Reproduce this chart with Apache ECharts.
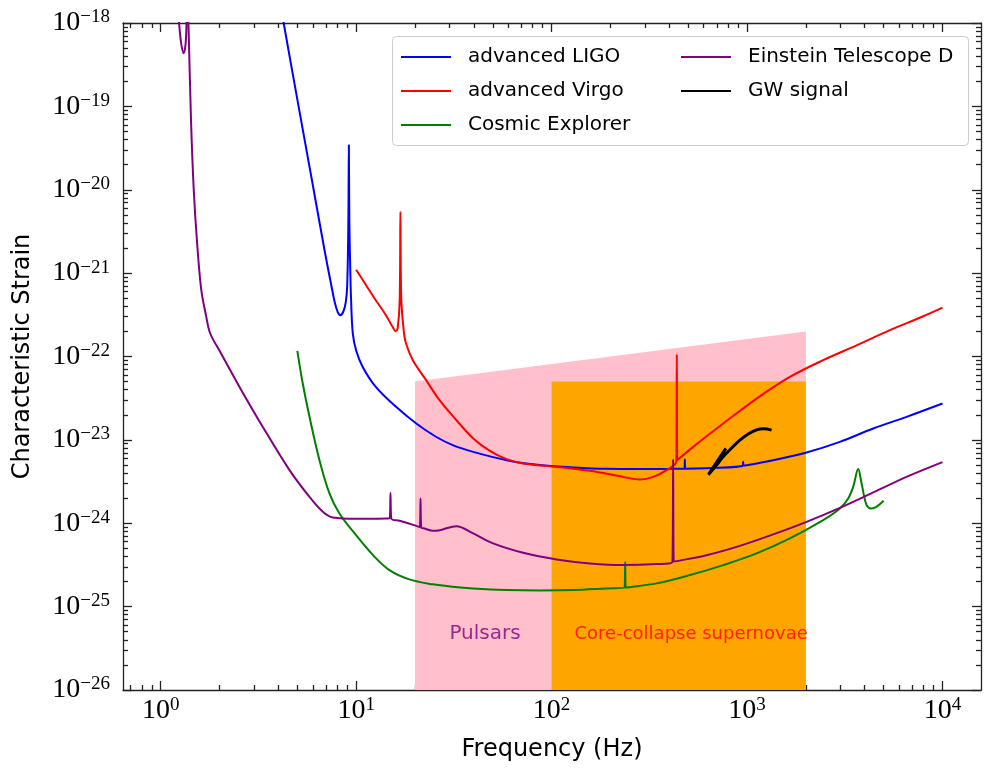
<!DOCTYPE html>
<html><head><meta charset="utf-8">
<script src="https://cdn.jsdelivr.net/npm/echarts@6/dist/echarts.min.js"></script>
<style>html,body{margin:0;padding:0;background:#fff}#c{width:985px;height:770px}</style>
</head><body><div id="c"></div>
<script>
// ---- tick labels (decade exponents) ----
const xTickExponents = [0, 1, 2, 3, 4];
const yTickExponents = [-26, -25, -24, -23, -22, -21, -20, -19, -18];

// ---- series: [frequency Hz, characteristic strain] ----
const advancedLIGO = [
  [4.02,2.15e-18],[4.25,1.02e-18],[5.01,1.18e-19],[5.94,1.30e-20],[6.89,1.88e-21],[7.46,7.16e-22],
  [7.77,4.48e-22],[8.05,3.40e-22],[8.29,3.13e-22],[8.59,3.44e-22],[8.85,4.48e-22],[9.00,7.16e-22],
  [9.12,4.07e-21],[9.175,3.44e-20],[9.23,4.07e-21],[9.33,1.08e-21],[9.42,4.73e-22],[9.61,1.89e-22],
  [9.99,1.19e-22],[10.8,7.50e-23],[12.6,4.33e-23],[16.0,2.49e-23],[20.3,1.57e-23],[25.6,1.09e-23],
  [31.2,8.65e-24],[39.7,7.18e-24],[58.8,5.71e-24],[87,4.98e-24],[129,4.67e-24],[191,4.49e-24],
  [283,4.46e-24],[419,4.49e-24],[478.7,4.52e-24],[480.5,5.82e-24],[482.2,4.52e-24],[620,4.58e-24],
  [951.7,4.91e-24],[955,5.48e-24],[958.5,4.93e-24],[1360,5.71e-24],[2016,7.06e-24],[2985,9.46e-24],
  [4420,1.37e-23],[6550,1.89e-23],[10000,2.73e-23]
];
const advancedVirgo = [
  [10.0,1.10e-21],[11.2,7.26e-22],[12.6,4.73e-22],[14.2,3.13e-22],[15.4,2.24e-22],[15.9,2.01e-22],
  [16.3,2.18e-22],[16.7,4.73e-22],[16.84,5.42e-21],[17.0,5.19e-22],[17.5,2.07e-22],[18.0,1.43e-22],
  [19.5,9.04e-23],[22.8,5.20e-23],[26.7,2.99e-23],[32.6,1.72e-23],[39.7,1.04e-23],[48.3,7.38e-24],
  [58.8,5.87e-24],[71.5,5.21e-24],[106,4.74e-24],[157,4.25e-24],[232,3.60e-24],[283,3.35e-24],
  [331,3.60e-24],[387,4.34e-24],[434.7,5.56e-24],[437.2,1.06e-22],[439.8,5.71e-24],[530,8.24e-24],
  [755,1.57e-23],[1119,3.13e-23],[1656,5.69e-23],[2452,9.04e-23],[3634,1.36e-22],[5381,2.07e-22],
  [7967,3.04e-22],[10000,3.86e-22]
];
const cosmicExplorer = [
  [5.0,1.17e-22],[5.33,4.74e-23],[5.77,1.89e-23],[6.49,5.71e-24],[7.30,2.28e-24],[8.21,1.31e-24],
  [9.99,7.19e-25],[12.2,4.14e-25],[14.8,2.74e-25],[18.7,2.12e-25],[24.7,1.85e-25],[31.2,1.73e-25],
  [39.7,1.65e-25],[58.8,1.58e-25],[87,1.56e-25],[129,1.58e-25],[191,1.65e-25],[236,1.69e-25],
  [237.9,3.44e-25],[239.5,1.70e-25],[344,1.90e-25],[510,2.39e-25],[755,3.15e-25],[1119,4.35e-25],
  [1656,6.58e-25],[2452,1.09e-24],[2985,1.50e-24],[3292,1.98e-24],[3491,2.73e-24],[3704,4.46e-24],
  [3855,3.00e-24],[4089,1.65e-24],[4337,1.50e-24],[5000,1.86e-24]
];
const einsteinTelescopeD = [
  [1.19,2.47e-18],[1.24,1.02e-18],[1.27,5.87e-19],[1.31,4.34e-19],[1.34,5.56e-19],[1.355,1.02e-18],
  [1.366,3.25e-18],[1.386,1.02e-18],[1.43,6.44e-20],[1.475,1.02e-20],[1.53,2.57e-21],[1.61,6.47e-22],
  [1.705,3.10e-22],[1.79,1.90e-22],[2.0,1.17e-22],[2.53,4.32e-23],[3.33,1.43e-23],
  [4.56,4.34e-24],[5.77,2.07e-24],[6.75,1.37e-24],[7.59,1.17e-24],[10.0,1.13e-24],[14.2,1.14e-24],
  [14.85,1.15e-24],[14.98,2.31e-24],[15.12,1.14e-24],[16.7,1.07e-24],[20.3,9.31e-25],[21.15,8.97e-25],
  [21.34,1.98e-24],[21.52,8.85e-25],[22.4,8.65e-25],[24.7,8.11e-25],[26.8,8.26e-25],[32.6,9.23e-25],
  [39.7,7.55e-25],[50.2,5.73e-25],[71.5,4.42e-25],[106,3.68e-25],[157,3.30e-25],[232,3.15e-25],
  [344,3.24e-25],[415,3.42e-25],[418.6,5.87e-24],[422,3.47e-25],[620,4.14e-25],[919,5.36e-25],
  [1360,7.35e-25],[2016,1.04e-24],[2985,1.53e-24],[4420,2.34e-24],[6550,3.60e-24],[10000,5.41e-24]
];
const gwSignal = [
  [779,7.89e-24],[634,3.83e-24],[692,4.84e-24],[752,6.21e-24],[836,8.05e-24],[919,9.91e-24],
  [1009,1.17e-23],[1119,1.32e-23],[1219,1.36e-23],[1335,1.31e-23]
];
// source regions: upper edge [frequency, strain]
const pulsarBand = [[20,5e-23],[2000,2e-22]];
const supernovaBand = [[100,5e-23],[2000,5e-23]];
// region text anchors [frequency, strain]
const pulsarLabelAt = [30, 4.7e-26];
const supernovaLabelAt = [131, 4.7e-26];

// ---- helpers ----
const XMIN = -0.193, XMAX = 4.197, YMIN = -26, YMAX = -18;
const L = d => d.map(p => [Math.log10(p[0]), Math.log10(p[1])]);
function minorTicks(lo, hi) {
  const out = [];
  for (let e = Math.floor(lo); e <= Math.ceil(hi); e++) {
    for (let k = 2; k <= 9; k++) { const v = e + Math.log10(k); if (v > lo && v < hi) out.push(v); }
  }
  return out;
}
const xMinor = minorTicks(XMIN, XMAX), yMinor = minorTicks(YMIN, YMAX);
const expStr = v => { const n = Math.round(v); return n < 0 ? '\u2212' + (-n) : String(n); };
const tickRich = {
  b: {fontFamily: 'Liberation Serif', fontSize: 28, lineHeight: 30, color: '#000'},
  s: {fontFamily: 'Liberation Serif', fontSize: 19, lineHeight: 19, verticalAlign: 'top', color: '#000'}
};
const spine = {color: '#222', width: 1.3};
const fmt = v => '{b|10}{s|' + expStr(v) + '}';

function axisSet(dim, lo, hi, majors, minors, nameCfg) {
  const sides = dim === 'x' ? ['bottom', 'top'] : ['left', 'right'];
  const axes = [];
  sides.forEach((pos, i) => {
    axes.push(Object.assign({
      type: 'value', min: lo, max: hi, position: pos,
      axisLine: {show: true, onZero: false, lineStyle: spine},
      axisTick: {show: true, inside: true, length: 9, customValues: majors, lineStyle: spine},
      axisLabel: i === 0 ? {show: true, customValues: majors, formatter: fmt, rich: tickRich,
                            margin: dim === 'x' ? 6 : 13} : {show: false},
      splitLine: {show: false}
    }, i === 0 ? nameCfg : {}));
    axes.push({
      type: 'value', min: lo, max: hi, position: pos,
      axisLine: {show: false, onZero: false},
      axisTick: {show: true, inside: true, length: 5, customValues: minors, lineStyle: spine},
      axisLabel: {show: false}, splitLine: {show: false}
    });
  });
  return axes;
}

const lineSeries = (name, data, color, width) => ({
  name, type: 'line', data: L(data), xAxisIndex: 0, yAxisIndex: 0,
  symbol: 'none', showSymbol: false, clip: true, silent: true, smooth: 0.35,
  lineStyle: {color, width}, itemStyle: {color}, z: 3
});
const bandSeries = (data, color) => ({
  type: 'line', data: L(data), xAxisIndex: 0, yAxisIndex: 0, symbol: 'none', silent: true,
  lineStyle: {width: 0, color}, areaStyle: {color, opacity: 1, origin: 'start'}, z: 1
});
const textSeries = (text, at, color, size) => ({
  type: 'scatter', data: L([at]), xAxisIndex: 0, yAxisIndex: 0, symbolSize: 1, silent: true,
  itemStyle: {color: 'rgba(0,0,0,0)'}, z: 2,
  label: {show: true, position: 'inside', align: 'left', verticalAlign: 'middle', formatter: text,
          color, fontFamily: 'DejaVu Sans', fontSize: size}
});

const legendText = {fontFamily: 'DejaVu Sans', fontSize: 20, color: '#000', padding: [0, 0, 0, 12]};
const lineIcon = 'path://M0,0H50V2H0Z';
const legendBase = {orient: 'vertical', itemWidth: 50, itemGap: 14, padding: 0, selectedMode: false,
                    icon: lineIcon, textStyle: legendText};
const option = {
  animation: false,
  backgroundColor: '#fff',
  grid: {left: 123, right: 4, top: 23, bottom: 80, containLabel: false},
  xAxis: axisSet('x', XMIN, XMAX, xTickExponents, xMinor, {
    name: 'Frequency (Hz)', nameLocation: 'middle', nameGap: 48,
    nameTextStyle: {fontFamily: 'DejaVu Sans', fontSize: 24, color: '#000'}
  }),
  yAxis: axisSet('y', YMIN, YMAX, yTickExponents, yMinor, {
    name: 'Characteristic Strain', nameLocation: 'middle', nameGap: 88,
    nameTextStyle: {fontFamily: 'DejaVu Sans', fontSize: 24, color: '#000'}
  }),
  graphic: [{
    type: 'rect', left: 392, top: 36, z: 0,
    shape: {width: 576, height: 109, r: 4},
    style: {fill: 'rgba(255,255,255,0.8)', stroke: '#cccccc', lineWidth: 1}
  }],
  legend: [
    Object.assign({data: ['advanced LIGO', 'advanced Virgo', 'Cosmic Explorer'], left: 401, top: 47,
                   itemHeight: 2}, legendBase),
    Object.assign({data: ['Einstein Telescope D'], left: 681, top: 47, itemHeight: 2}, legendBase),
    Object.assign({data: ['GW signal'], left: 681, top: 81, itemHeight: 3}, legendBase)
  ],
  series: [
    bandSeries(pulsarBand, '#ffc0cb'),
    bandSeries(supernovaBand, '#ffa500'),
    textSeries('Pulsars', pulsarLabelAt, '#800080', 20),
    textSeries('Core-collapse supernovae', supernovaLabelAt, '#ff0000', 18),
    lineSeries('advanced LIGO', advancedLIGO, '#0000ff', 2),
    lineSeries('advanced Virgo', advancedVirgo, '#ff0000', 2),
    lineSeries('Cosmic Explorer', cosmicExplorer, '#008000', 2),
    lineSeries('Einstein Telescope D', einsteinTelescopeD, '#800080', 2),
    lineSeries('GW signal', gwSignal, '#000000', 3)
  ]
};
const chart = echarts.init(document.getElementById('c'), null, {renderer: 'canvas'});
chart.setOption(option);
</script>
</body></html>
